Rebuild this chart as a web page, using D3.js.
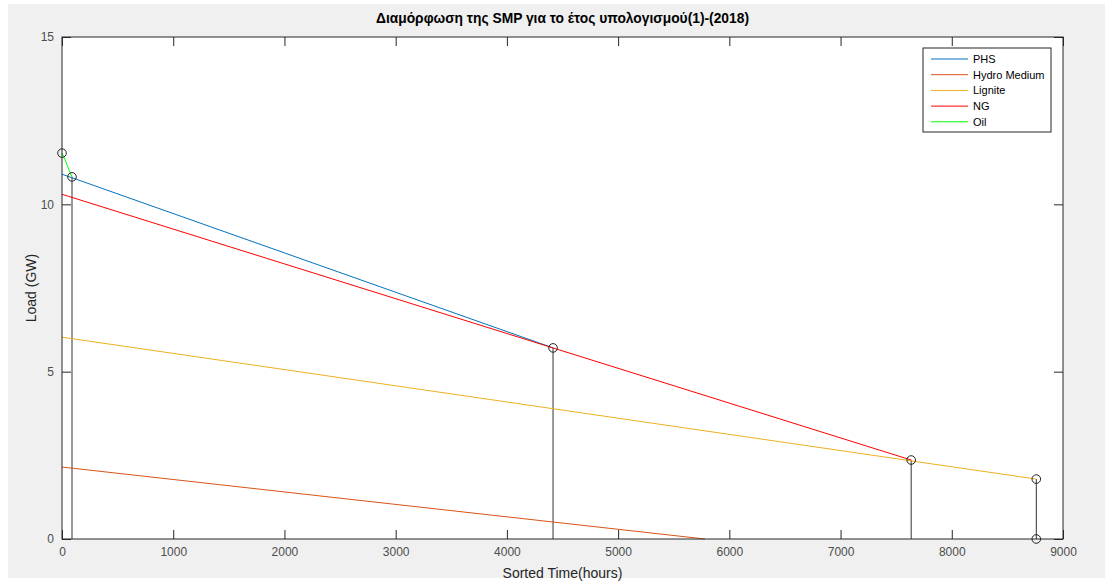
<!DOCTYPE html>
<meta charset="utf-8">
<script src="https://d3js.org/d3.v7.min.js"></script>
<style>
  body { margin: 0; background: #fff; }
  text { font-family: 'Liberation Sans', Arial, sans-serif; }
</style>
<body>
<svg id="chart" width="1105" height="585"></svg>
</body>
<script>
// series (sorted time in hours, load in GW)
var seriesNames = ["PHS", "Hydro Medium", "Lignite", "NG", "Oil"];
var seriesColors = ["#0072BD", "#D95319", "#EDB120", "#FF0000", "#00FF00"];

var phsX = [0, 4415];
var phsY = [10.9, 5.71];
var hydroX = [0, 5780];
var hydroY = [2.15, 0];
var ligniteX = [0, 8760];
var ligniteY = [6.03, 1.79];
var ngX = [0, 7635];
var ngY = [10.3, 2.36];
var oilX = [0, 30, 60, 90];
var oilY = [11.53, 11.32, 11.05, 10.82];

// breakpoints (circles) and the vertical drop lines
var markX = [0, 90, 4415, 7635, 8760, 8760];
var markY = [11.53, 10.82, 5.71, 2.36, 1.79, 0];
var dropX = [90, 4415, 7635, 8760];
var dropY = [10.82, 5.71, 2.36, 1.79];

var xTicks = [0, 1000, 2000, 3000, 4000, 5000, 6000, 7000, 8000, 9000];
var yTicks = [0, 5, 10, 15];

var title = "Διαμόρφωση της SMP για το έτος υπολογισμού(1)-(2018)";

var svg = d3.select("#chart");
var margin = {top: 37, right: 42, bottom: 46, left: 62};
var width = 1105 - margin.left - margin.right,
    height = 585 - margin.top - margin.bottom;

// figure background
svg.append("rect").attr("x", 8).attr("y", 4).attr("width", 1097).attr("height", 574).attr("fill", "#f0f0f0");

var g = svg.append("g").attr("transform", "translate(" + margin.left + "," + margin.top + ")");

var x = d3.scaleLinear().domain([0, 9000]).range([0, width]);
var y = d3.scaleLinear().domain([0, 15]).range([height, 0]);

g.append("rect").attr("width", width).attr("height", height).attr("fill", "#fff");

var allX = [phsX, hydroX, ligniteX, ngX, oilX];
var allY = [phsY, hydroY, ligniteY, ngY, oilY];

var line = d3.line()
    .x(function(d) { return x(d[0]); })
    .y(function(d) { return y(d[1]); });

// drop lines
g.selectAll(".drop")
  .data(dropX)
  .enter().append("line")
    .attr("x1", function(d) { return x(d); })
    .attr("x2", function(d) { return x(d); })
    .attr("y1", y(0))
    .attr("y2", function(d, i) { return y(dropY[i]); })
    .attr("stroke", "#333")
    .attr("stroke-width", 1);

seriesNames.forEach(function(name, i) {
  var pts = allX[i].map(function(v, j) { return [v, allY[i][j]]; });
  g.append("path")
    .attr("d", line(pts))
    .attr("fill", "none")
    .attr("stroke", seriesColors[i])
    .attr("stroke-width", 1);
});

g.selectAll(".mark")
  .data(markX)
  .enter().append("circle")
    .attr("cx", function(d) { return x(d); })
    .attr("cy", function(d, i) { return y(markY[i]); })
    .attr("r", 4.3)
    .attr("fill", "none")
    .attr("stroke", "#222")
    .attr("stroke-width", 1);

// axes with inner ticks, MATLAB style box
var tickLen = 9;
var axisColor = "#262626";
function styleAxis(sel) {
  sel.select(".domain").remove();
  sel.selectAll("line").attr("stroke", axisColor);
  sel.selectAll("text").attr("fill", "#4d4d4d").style("font-size", "12px");
}

g.append("g").attr("transform", "translate(0," + height + ")")
  .call(d3.axisBottom(x).tickValues(xTicks).tickSizeInner(-tickLen).tickSizeOuter(0).tickPadding(8).tickFormat(d3.format("d")))
  .call(styleAxis);
g.append("g")
  .call(d3.axisTop(x).tickValues(xTicks).tickSizeInner(-tickLen).tickSizeOuter(0).tickFormat(""))
  .call(styleAxis);
g.append("g")
  .call(d3.axisLeft(y).tickValues(yTicks).tickSizeInner(-tickLen).tickSizeOuter(0).tickPadding(8))
  .call(styleAxis);
g.append("g").attr("transform", "translate(" + width + ",0)")
  .call(d3.axisRight(y).tickValues(yTicks).tickSizeInner(-tickLen).tickSizeOuter(0).tickFormat(""))
  .call(styleAxis);

g.append("rect").attr("width", width).attr("height", height)
  .attr("fill", "none").attr("stroke", axisColor).attr("stroke-width", 1);

// title and labels
svg.append("text")
  .attr("x", margin.left + width / 2).attr("y", 23)
  .attr("text-anchor", "middle")
  .style("font-size", "13.8px").style("font-weight", "bold").attr("fill", "#000")
  .text(title);

svg.append("text")
  .attr("x", margin.left + width / 2).attr("y", 578)
  .attr("text-anchor", "middle")
  .style("font-size", "14px").attr("fill", "#262626")
  .text("Sorted Time(hours)");

svg.append("text")
  .attr("transform", "translate(36," + (margin.top + height / 2) + ") rotate(-90)")
  .attr("text-anchor", "middle")
  .style("font-size", "14px").attr("fill", "#262626")
  .text("Load (GW)");

// legend
var legend = svg.append("g").attr("transform", "translate(923,48)");
legend.append("rect").attr("width", 128).attr("height", 84)
  .attr("fill", "#fff").attr("stroke", axisColor).attr("stroke-width", 1);
var items = legend.selectAll(".item")
  .data(seriesNames)
  .enter().append("g")
    .attr("transform", function(d, i) { return "translate(0," + (11 + i * 15.7) + ")"; });
items.append("line")
  .attr("x1", 8).attr("x2", 45)
  .attr("stroke", function(d, i) { return seriesColors[i]; })
  .attr("stroke-width", 1);
items.append("text")
  .attr("x", 50).attr("dy", "0.35em")
  .style("font-size", "11px").attr("fill", "#000")
  .text(function(d) { return d; });
</script>
